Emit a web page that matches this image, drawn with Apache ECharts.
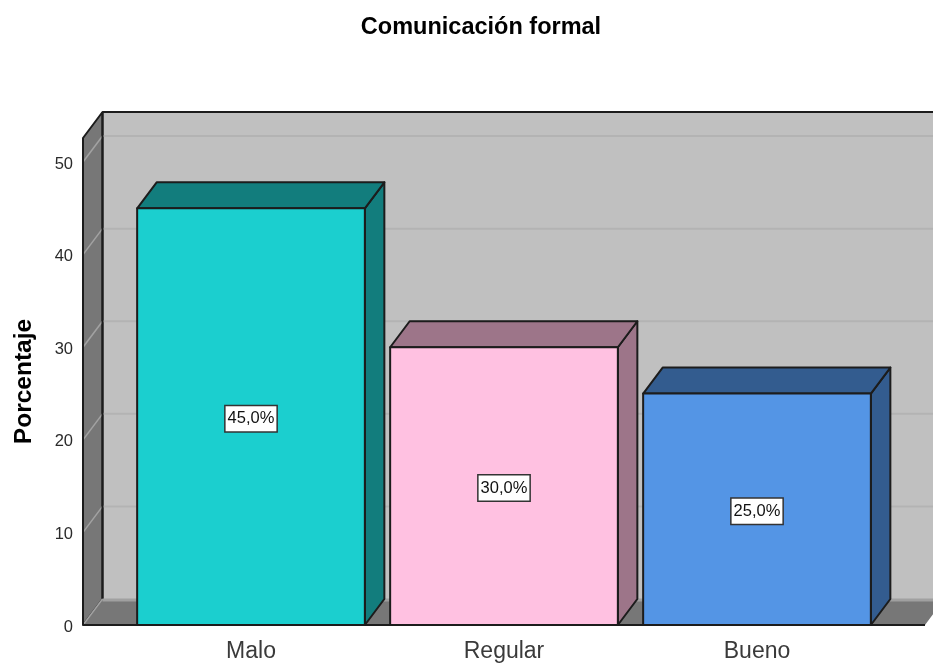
<!DOCTYPE html>
<html>
<head>
<meta charset="utf-8">
<style>html,body{margin:0;padding:0;background:#fff}#chart{width:933px;height:664px}</style>
<script src="https://cdn.jsdelivr.net/npm/echarts@6/dist/echarts.min.js"></script>
</head>
<body>
<div id="chart"></div>
<script>
// Survey results: formal communication rating
var categories = ['Malo', 'Regular', 'Bueno'];
var percentages = [45, 30, 25];
var faceColors = ['#1bcfcf', '#ffc1e1', '#5495e5'];
var shadeColors = ['#127d7d', '#9d7589', '#335c8f'];
var gridValues = [10, 20, 30, 40, 50];

// Oblique projection used for the box depth
var DX = 19.5, DY = -26;
// Horizontal distance between the outer bands and the side edges of the room
var ROOM_INSET = 41.5;
var LINE = '#1c1c1c';

function poly(points, fill, stroke, width) {
  return {
    type: 'polygon',
    shape: { points: points },
    style: { fill: fill, stroke: stroke || null, lineWidth: width || 0, lineJoin: 'round' }
  };
}

function seg(x1, y1, x2, y2, color, width) {
  return {
    type: 'line',
    shape: { x1: x1, y1: y1, x2: x2, y2: y2 },
    style: { stroke: color, lineWidth: width, fill: null }
  };
}

// Back wall, left wall, floor and the gridlines running across them
function renderRoom(params, api) {
  var cs = params.coordSys;
  var left = cs.x - ROOM_INSET;
  var right = cs.x + cs.width + ROOM_INSET;
  var floor = cs.y + cs.height;
  var top = cs.y;
  var farRight = right + DX + 20;
  var kids = [
    poly([[left + DX, top + DY], [farRight, top + DY], [farRight, floor + DY], [left + DX, floor + DY]], '#c0c0c0'),
    poly([[left, top], [left + DX, top + DY], [left + DX, floor + DY], [left, floor]], '#777777', LINE, 2),
    poly([[left, floor], [left + DX, floor + DY], [farRight, floor + DY], [right + DX, floor + DY], [right, floor]], '#777777')
  ];
  gridValues.forEach(function (v) {
    var y = api.coord([0, v])[1];
    kids.push(seg(left + DX, y + DY, farRight, y + DY, '#b3b3b3', 2));
    kids.push(seg(left, y, left + DX, y + DY, '#a2a2a2', 1.5));
  });
  kids.push(seg(left + DX, top + DY, farRight, top + DY, LINE, 2));
  kids.push(seg(left + DX, top + DY, left + DX, floor + DY, LINE, 2));
  kids.push(seg(left + DX, floor + DY + 1, farRight, floor + DY + 1, '#a0a0a0', 3));
  kids.push(seg(left, floor, left + DX, floor + DY, '#a2a2a2', 1.5));
  kids.push(seg(left, top, left, floor, LINE, 2));
  kids.push(seg(left, floor, right, floor, LINE, 2));
  return { type: 'group', children: kids };
}

// One extruded bar with its boxed value label
function renderBar(params, api) {
  var i = api.value(0);
  var v = api.value(1);
  var base = api.coord([i, 0]);
  var head = api.coord([i, v]);
  var w = api.size([1, 0])[0] * 0.9;
  var x0 = base[0] - w / 2, x1 = base[0] + w / 2;
  var y0 = base[1], y1 = head[1];
  var shade = shadeColors[i];
  return {
    type: 'group',
    children: [
      poly([[x1, y1], [x1 + DX, y1 + DY], [x1 + DX, y0 + DY], [x1, y0]], shade, LINE, 2),
      poly([[x0, y1], [x0 + DX, y1 + DY], [x1 + DX, y1 + DY], [x1, y1]], shade, LINE, 2),
      poly([[x0, y1], [x1, y1], [x1, y0], [x0, y0]], faceColors[i], LINE, 2),
      {
        type: 'text',
        z2: 10,
        style: {
          x: (x0 + x1) / 2,
          y: (y0 + y1) / 2 + 2,
          text: v.toFixed(1).replace('.', ',') + '%',
          align: 'center',
          verticalAlign: 'middle',
          fill: '#111',
          font: '16.5px "Liberation Sans"',
          backgroundColor: '#fff',
          borderColor: '#333',
          borderWidth: 1.5,
          padding: [6, 2, 2, 2]
        }
      }
    ]
  };
}

var chart = echarts.init(document.getElementById('chart'), null, { renderer: 'canvas' });
chart.setOption({
  animation: false,
  backgroundColor: '#fff',
  title: {
    text: 'Comunicación formal',
    left: 476,
    top: 11,
    textAlign: 'center',
    textStyle: { fontFamily: 'Liberation Sans', fontWeight: 'bold', fontSize: 23.5, color: '#000' }
  },
  grid: { left: 124.5, width: 759, top: 138, height: 487 },
  xAxis: {
    type: 'category',
    data: categories,
    axisLine: { show: false },
    axisTick: { show: false },
    splitLine: { show: false },
    axisLabel: { margin: 15, fontFamily: 'Liberation Sans', fontSize: 23, color: '#3a3a3a' }
  },
  yAxis: {
    type: 'value',
    min: 0,
    max: 52.6,
    interval: 10,
    offset: ROOM_INSET,
    name: 'Porcentaje',
    nameLocation: 'middle',
    nameGap: 46,
    nameTextStyle: { fontFamily: 'Liberation Sans', fontWeight: 'bold', fontSize: 24.5, color: '#000' },
    axisLine: { show: false },
    axisTick: { show: false },
    splitLine: { show: false },
    axisLabel: {
      margin: 10,
      showMaxLabel: false,
      verticalAlign: 'top',
      lineHeight: 4,
      fontFamily: 'Liberation Sans',
      fontSize: 16.5,
      color: '#2a2a2a'
    }
  },
  series: [
    { type: 'custom', clip: false, z: 1, renderItem: renderRoom, data: [[0, 0]], silent: true },
    {
      type: 'custom',
      clip: false,
      z: 2,
      renderItem: renderBar,
      encode: { x: 0, y: 1 },
      data: percentages.map(function (p, i) { return [i, p]; })
    }
  ]
});
</script>
</body>
</html>
